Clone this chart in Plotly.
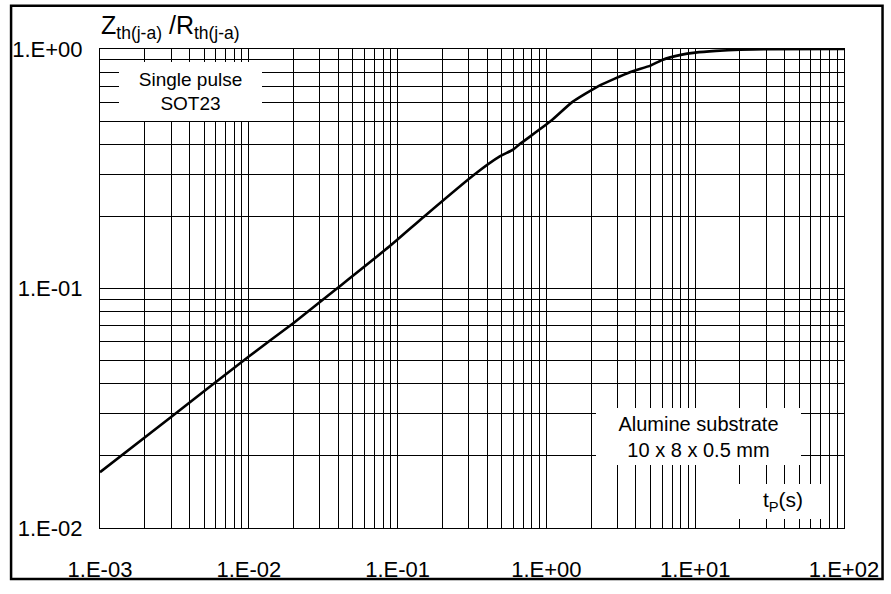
import plotly.graph_objects as go

# Data
tp = [0.001, 0.00305, 0.01, 0.0201, 0.0391, 0.0883, 0.151, 0.33, 0.486, 0.597, 0.66,
      1.07, 1.49, 2.24, 3.64, 5.0, 6.0, 8.0, 10.0, 13.8, 20.0, 30.0, 100.0]
zth = [0.0171, 0.0293, 0.052, 0.072, 0.100, 0.150, 0.200, 0.300, 0.356, 0.380, 0.400,
       0.500, 0.600, 0.700, 0.800, 0.852, 0.900, 0.945, 0.966, 0.982, 0.993, 0.998, 1.000]

x_tickvals = [1e-3, 1e-2, 1e-1, 1e0, 1e1, 1e2]
x_ticktext = ["1.E-03", "1.E-02", "1.E-01", "1.E+00", "1.E+01", "1.E+02"]
y_tickvals = [1e-2, 1e-1, 1e0]
y_ticktext = ["1.E-02", "1.E-01", "1.E+00"]

x_minor = [m * d for d in [1e-3, 1e-2, 1e-1, 1e0, 1e1] for m in range(2, 10)]
y_minor = [m * d for d in [1e-2, 1e-1] for m in range(2, 10)]

FONT = "Liberation Sans, Arial, sans-serif"

fig = go.Figure()
fig.add_trace(go.Scatter(x=tp, y=zth, mode="lines",
                         line=dict(color="black", width=2.6, shape="spline", smoothing=0.5),
                         showlegend=False, hoverinfo="skip"))

axis_common = dict(
    type="log", showgrid=True, gridcolor="black", gridwidth=1,
    showline=True, linecolor="black", linewidth=1, mirror=True,
    ticks="", zeroline=False, tickmode="array",
    tickfont=dict(family=FONT, size=22, color="black"),
)

fig.update_xaxes(**axis_common, range=[-3, 2], tickvals=x_tickvals, ticktext=x_ticktext,
                 ticklabelstandoff=22,
                 minor=dict(showgrid=True, gridcolor="black", gridwidth=1, tickmode="array",
                            tickvals=x_minor, ticks=""))
fig.update_yaxes(**axis_common, range=[-2, 0], tickvals=y_tickvals, ticktext=y_ticktext,
                 ticklabelstandoff=12,
                 minor=dict(showgrid=True, gridcolor="black", gridwidth=1, tickmode="array",
                            tickvals=y_minor, ticks=""))

W, H = 891, 594
L, R, T, B = 97, 850, 49, 537
pw, ph = R - L, B - T

def px(xp):
    return (xp - L) / pw

def py(yp):
    return (B - yp) / ph

annotations = [
    dict(text="Single pulse<br>SOT23", x=px(188.5), y=py(92.5), width=143, height=59, size=19),
    dict(text="Alumine substrate<br>10 x 8 x 0.5 mm", x=px(702.5), y=py(443.5), width=205, height=57, size=20),
    dict(text="t<sub>P</sub>(s)", x=px(788), y=py(509.5), width=90, height=35, size=21),
]
for a in annotations:
    size = a.pop("size")
    fig.add_annotation(xref="paper", yref="paper", showarrow=False, bgcolor="white",
                       borderpad=0, borderwidth=0, xanchor="center", yanchor="middle",
                       align="center", valign="middle",
                       font=dict(family=FONT, size=size, color="black"), **a)

fig.add_annotation(xref="paper", yref="paper", x=px(96), y=py(27), xanchor="left", yanchor="middle",
                   showarrow=False, text="Z<sub>th(j-a)</sub> /R<sub>th(j-a)</sub>",
                   font=dict(family=FONT, size=25, color="black"))

fig.add_shape(type="rect", xref="paper", yref="paper", x0=px(7), x1=px(889), y0=py(589), y1=py(5),
              line=dict(color="black", width=2.5), fillcolor="rgba(0,0,0,0)", layer="above")

fig.update_layout(width=W, height=H, margin=dict(l=L, r=W - R, t=T, b=H - B),
                  paper_bgcolor="white", plot_bgcolor="white", showlegend=False)

fig.write_html("out.html", config={"displayModeBar": False},
               post_script="document.body.style.margin='0';document.body.style.overflow='hidden';")
